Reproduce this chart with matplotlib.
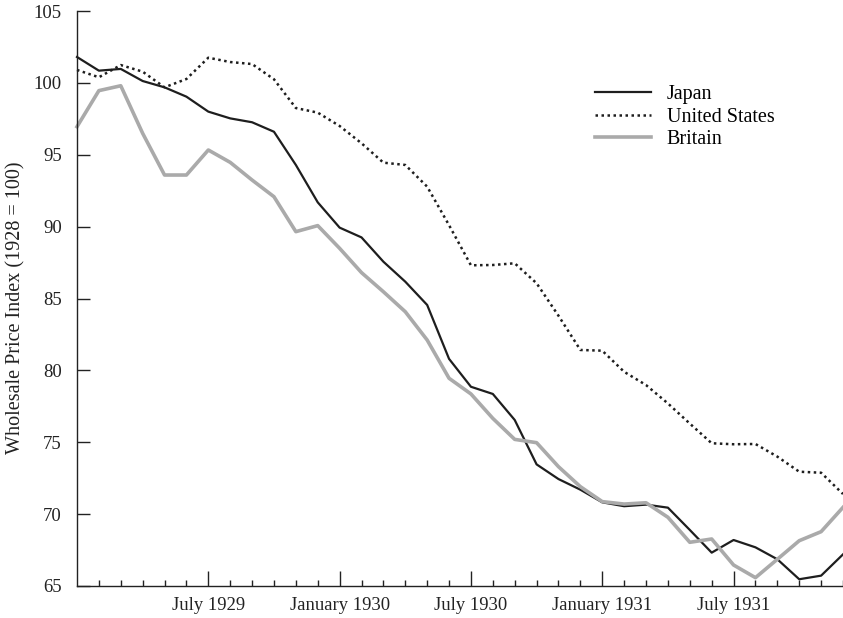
import matplotlib
matplotlib.use("Agg")
import matplotlib.pyplot as plt
from matplotlib.ticker import FixedLocator

months = list(range(36))  # Jan 1929 .. Dec 1931
major_pos = [6, 12, 18, 24, 30]
major_labels = ["July 1929", "January 1930", "July 1930", "January 1931", "July 1931"]

japan = [101.8, 100.85, 100.97, 100.13, 99.69, 99.04, 98.0, 97.53, 97.26, 96.6,
         94.29, 91.69, 89.93, 89.25, 87.56, 86.17, 84.55, 80.8, 78.86, 78.36,
         76.55, 73.46, 72.44, 71.7, 70.82, 70.55, 70.66, 70.45, 68.9, 67.32,
         68.2, 67.69, 66.86, 65.47, 65.72, 67.2]
us = [100.9, 100.39, 101.24, 100.78, 99.69, 100.27, 101.75, 101.45, 101.31, 100.25,
      98.25, 97.93, 97.0, 95.8, 94.45, 94.29, 92.78, 90.1, 87.31, 87.33,
      87.45, 86.06, 83.8, 81.42, 81.37, 79.9, 78.98, 77.7, 76.3, 74.93,
      74.86, 74.88, 74.0, 72.95, 72.88, 71.4]
britain = [96.95, 99.46, 99.8, 96.49, 93.59, 93.59, 95.33, 94.47, 93.24, 92.08,
           89.65, 90.07, 88.49, 86.8, 85.47, 84.08, 82.11, 79.45, 78.36, 76.66,
           75.2, 74.97, 73.3, 71.91, 70.87, 70.7, 70.79, 69.78, 68.04, 68.27,
           66.46, 65.58, 66.86, 68.15, 68.78, 70.47]

plt.rcParams['font.family'] = ['Liberation Serif', 'DejaVu Serif']

fig = plt.figure(figsize=(8.43, 6.18), dpi=100)
ax = fig.add_axes([77/843, 1 - 586/618, 1 - 77/843, (586 - 11)/618])

ax.plot(months, japan, color='#1e1e1e', lw=1.6, label='Japan', clip_on=False)
ax.plot(months, us, color='#1e1e1e', lw=1.8, ls=(0, (1, 1.4)), label='United States', clip_on=False)
ax.plot(months, britain, color='#aaaaaa', lw=2.6, label='Britain', clip_on=False)

ax.set_xlim(0, 35)
ax.set_ylim(65, 105)
ax.set_yticks(range(65, 106, 5))
ax.xaxis.set_major_locator(FixedLocator(major_pos))
ax.set_xticklabels(major_labels)
ax.xaxis.set_minor_locator(FixedLocator([m for m in months if m not in major_pos and m > 0]))

for s in ['top', 'right']:
    ax.spines[s].set_visible(False)
for s in ['left', 'bottom']:
    ax.spines[s].set_linewidth(1.0)
    ax.spines[s].set_color('#222222')

ax.tick_params(axis='y', direction='in', length=9, width=1, pad=11, labelsize=13.5, colors='#222222')
ax.tick_params(axis='x', which='major', direction='in', length=11, width=1, pad=8, labelsize=13.4, colors='#222222')
ax.tick_params(axis='x', which='minor', direction='in', length=4, width=1, colors='#222222')

fig.text(16/843, 1 - 308/618, 'Wholesale Price Index (1928 = 100)', fontsize=14.5, color='#222222',
         rotation=90, ha='center', va='center')

leg = ax.legend(loc='upper left', bbox_to_anchor=(0.676, 0.871), frameon=False, fontsize=14.5,
                handlelength=2.8, handletextpad=0.77, labelspacing=0.16, borderaxespad=0, borderpad=0)

fig.savefig('out.png', dpi=100)
